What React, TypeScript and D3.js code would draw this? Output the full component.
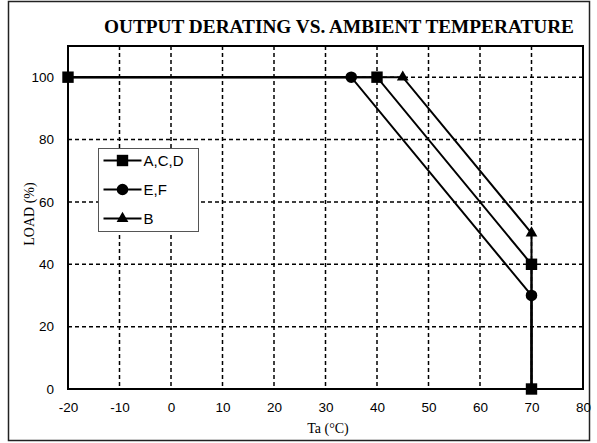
import React, { useRef, useEffect } from 'react';
import * as d3 from 'd3';

const X_TICKS = [-20, -10, 0, 10, 20, 30, 40, 50, 60, 70, 80];
const Y_TICKS = [0, 20, 40, 60, 80, 100];

// series points [Ta, load]
const SERIES_ACD: [number, number][] = [[-20, 100], [40, 100], [70, 40], [70, 0]];
const SERIES_EF: [number, number][] = [[-20, 100], [35, 100], [70, 30], [70, 0]];
const SERIES_B: [number, number][] = [[-20, 100], [45, 100], [70, 50], [70, 0]];
const LEGEND_LABELS = ['A,C,D', 'E,F', 'B'];

const W = 597;
const H = 443;

export default function App() {
  const svgRef = useRef<SVGSVGElement>(null);

  useEffect(() => {
    const svg = d3.select(svgRef.current);
    svg.selectAll('*').remove();

    const margin = { top: 46, right: 14, bottom: 54, left: 68 };
    const innerW = W - margin.left - margin.right;
    const innerH = H - margin.top - margin.bottom;
    const serif = '"Liberation Serif", "Times New Roman", serif';
    const sans = '"Liberation Sans", Arial, sans-serif';

    // outer frame
    svg.append('rect')
      .attr('x', 8.5).attr('y', 1.5)
      .attr('width', 581).attr('height', 439)
      .attr('fill', '#fff').attr('stroke', '#222').attr('stroke-width', 1.5);

    svg.append('text')
      .attr('x', 339).attr('y', 33)
      .attr('text-anchor', 'middle')
      .attr('font-family', serif)
      .attr('font-weight', 'bold')
      .attr('font-size', 18.5)
      .attr('textLength', 470)
      .attr('lengthAdjust', 'spacingAndGlyphs')
      .text('OUTPUT DERATING VS. AMBIENT TEMPERATURE');

    const x = d3.scaleLinear().domain([-20, 80]).range([0, innerW]);
    const y = d3.scaleLinear().domain([0, 110]).range([innerH, 0]);

    const g = svg.append('g').attr('transform', `translate(${margin.left},${margin.top})`);

    // dashed grid
    g.append('g')
      .selectAll('line')
      .data(X_TICKS.slice(1, -1))
      .join('line')
      .attr('x1', (d) => x(d)).attr('x2', (d) => x(d))
      .attr('y1', 0).attr('y2', innerH)
      .attr('stroke', '#000').attr('stroke-width', 1.5)
      .attr('stroke-dasharray', '4,3');
    g.append('g')
      .selectAll('line')
      .data(Y_TICKS.slice(1))
      .join('line')
      .attr('x1', 0).attr('x2', innerW)
      .attr('y1', (d) => y(d)).attr('y2', (d) => y(d))
      .attr('stroke', '#000').attr('stroke-width', 1.5)
      .attr('stroke-dasharray', '4,3');

    // plot border
    g.append('rect')
      .attr('width', innerW).attr('height', innerH)
      .attr('fill', 'none').attr('stroke', '#000').attr('stroke-width', 2);

    // axes (labels only, plain hyphen minus)
    const fmt = (d: d3.NumberValue) => String(d);
    const xAxis = g.append('g')
      .attr('transform', `translate(0,${innerH})`)
      .call(d3.axisBottom(x).tickValues(X_TICKS).tickSize(0).tickPadding(13).tickFormat(fmt));
    xAxis.select('.domain').remove();
    xAxis.selectAll('text').attr('font-family', sans).attr('font-size', 13.5).attr('fill', '#000');

    const yAxis = g.append('g')
      .call(d3.axisLeft(y).tickValues(Y_TICKS).tickSize(0).tickPadding(14).tickFormat(fmt));
    yAxis.select('.domain').remove();
    yAxis.selectAll('text').attr('font-family', sans).attr('font-size', 13.5).attr('fill', '#000');

    // axis titles
    svg.append('text')
      .attr('x', 328).attr('y', 433)
      .attr('text-anchor', 'middle')
      .attr('font-family', serif)
      .attr('font-size', 14)
      .text('Ta (\u00B0C)');
    svg.append('text')
      .attr('transform', 'translate(34,214) rotate(-90)')
      .attr('text-anchor', 'middle')
      .attr('font-family', serif)
      .attr('font-size', 14)
      .text('LOAD (%)');

    const line = d3.line<[number, number]>().x((d) => x(d[0])).y((d) => y(d[1]));

    const square = d3.symbol().type(d3.symbolSquare).size(130);
    const circle = d3.symbol().type(d3.symbolCircle).size(105);
    const triangle = d3.symbol().type(d3.symbolTriangle).size(60);

    const series = [
      { data: SERIES_B, sym: triangle, marks: [1, 2] },
      { data: SERIES_EF, sym: circle, marks: [1, 2] },
      { data: SERIES_ACD, sym: square, marks: [0, 1, 2, 3] },
    ];

    series.forEach((s) => {
      g.append('path')
        .attr('d', line(s.data))
        .attr('fill', 'none').attr('stroke', '#000').attr('stroke-width', 2);
    });
    series.forEach((s) => {
      g.append('g')
        .selectAll('path')
        .data(s.marks.map((i) => s.data[i]))
        .join('path')
        .attr('transform', (d) => `translate(${x(d[0])},${y(d[1])})`)
        .attr('d', s.sym())
        .attr('fill', '#000');
    });

    // legend
    const lg = svg.append('g').attr('transform', 'translate(98.5,148.5)');
    lg.append('rect')
      .attr('width', 100).attr('height', 83)
      .attr('fill', '#fff').attr('stroke', '#555').attr('stroke-width', 1);
    const legendSyms = [square, circle, triangle];
    const ly = d3.scaleBand<string>().domain(LEGEND_LABELS).range([0, 87]);
    LEGEND_LABELS.forEach((lab, i) => {
      const cy = (ly(lab) as number) + 12;
      lg.append('line')
        .attr('x1', 5).attr('x2', 43).attr('y1', cy).attr('y2', cy)
        .attr('stroke', '#000').attr('stroke-width', 2);
      lg.append('path')
        .attr('transform', `translate(24,${cy})`)
        .attr('d', legendSyms[i]())
        .attr('fill', '#000');
      lg.append('text')
        .attr('x', 45).attr('y', cy)
        .attr('dy', '0.36em')
        .attr('font-family', sans)
        .attr('font-size', 15)
        .text(lab);
    });
  }, []);

  return (
    <div style={{ position: 'absolute', left: 0, top: 0 }}>
      <svg ref={svgRef} width={W} height={H} style={{ display: 'block', background: '#fff' }} />
    </div>
  );
}
